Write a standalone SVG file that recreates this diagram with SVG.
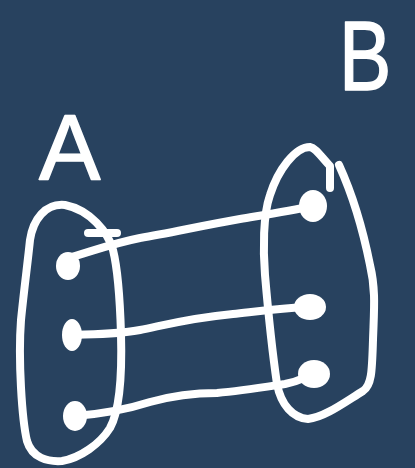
<svg xmlns="http://www.w3.org/2000/svg" width="415" height="468" viewBox="0 0 415 468">
<style>
.s{fill:none;stroke:#ffffff;stroke-width:8;stroke-linecap:round;stroke-linejoin:round}
.d{fill:#ffffff}
.t{fill:#ffffff;stroke:#ffffff;stroke-width:1.5;stroke-linejoin:round;font-family:"Liberation Sans",Arial,sans-serif}
</style>
<rect width="415" height="468" fill="#28425f"/>
<g id="labelA"><text class="t" x="39" y="180" font-size="92">A</text></g>
<g id="labelB"><text class="t" font-size="98" transform="translate(339,90) scale(0.8,1)">B</text></g>
<g id="setA">
<path class="s" d="M113,250 C108,232 90,210 65,205 C45,203 33,220 30,240 C28,260 24,290 21,320 C18,360 22,420 27,441 C32,458 48,462 62,461 C80,458 100,444 110,428 C120,410 122,370 121,334 C120,300 118,270 113,250"/>
<path class="s" d="M88,233 L117,233"/>
</g>
<g id="setB">
<path class="s" d="M330,188 L330,166 C322,158 316,148 310,147 C295,147 278,170 270,195 C263,215 263,250 265,275 C268,310 272,350 277,384 C281,405 293,418 308,419 C325,417 345,402 363,391 C372,385 372,370 373,340 C374,310 376,290 370,265 C365,240 355,200 339,165"/>
</g>
<g id="connectors">
<path class="s" d="M68,258 C90,252 110,244 140,238 C170,233 200,226 240,219 C270,214 290,211 312,206"/>
<path class="s" d="M72,335 C100,334 120,334 140,330 C165,325 190,318 233,314 C260,311 280,308 310,307"/>
<path class="s" d="M75,416 C100,414 125,410 150,402 C175,395 200,393 217,393 C240,391 265,387 285,384 C300,381 305,377 314,374"/>
</g>
<g id="a1"><ellipse class="d" cx="68" cy="266" rx="12" ry="14"/></g>
<g id="a2"><ellipse class="d" cx="72" cy="335" rx="10" ry="16"/></g>
<g id="a3"><ellipse class="d" cx="75" cy="416" rx="12" ry="15"/></g>
<g id="b1"><ellipse class="d" cx="313" cy="206" rx="14" ry="16"/></g>
<g id="b2"><ellipse class="d" cx="310" cy="307" rx="16" ry="13"/></g>
<g id="b3"><ellipse class="d" cx="314" cy="374" rx="16" ry="14"/></g>
</svg>
